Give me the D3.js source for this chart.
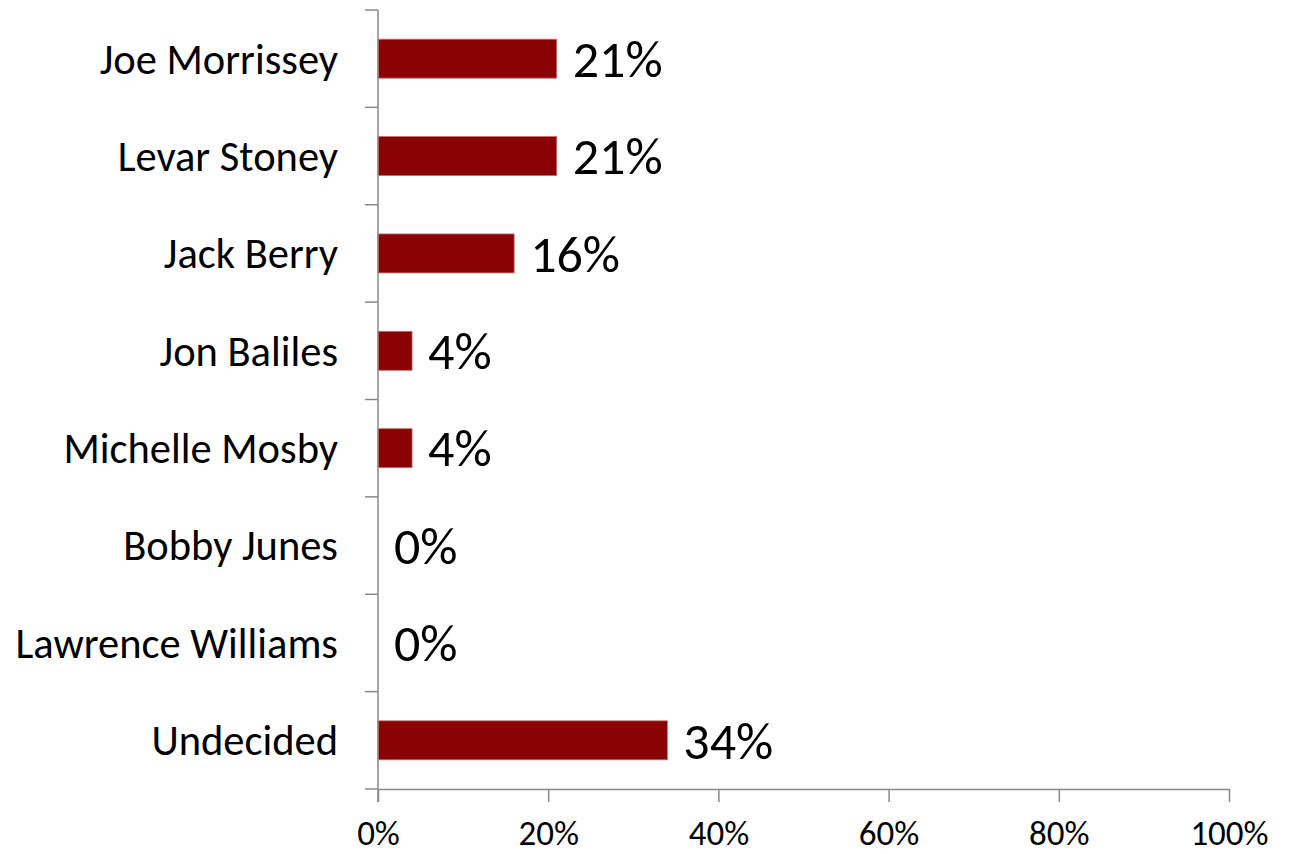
<!DOCTYPE html>
<html>
<head>
<meta charset="utf-8">
<script src="https://cdn.jsdelivr.net/npm/d3@7"></script>
<style>
  html, body { margin: 0; padding: 0; background: #fff; }
  svg { display: block; font-family: Calibri, Carlito, 'Open Sans', sans-serif; }
</style>
</head>
<body>
<svg id="chart" width="1290" height="854"></svg>
<script>
const candidates = ['Joe Morrissey', 'Levar Stoney', 'Jack Berry', 'Jon Baliles',
  'Michelle Mosby', 'Bobby Junes', 'Lawrence Williams', 'Undecided'];
const shares = [21, 21, 16, 4, 4, 0, 0, 34];
const xTicks = [0, 20, 40, 60, 80, 100];

const margin = { top: 10, right: 61, bottom: 65, left: 378 };
const width = 1290, height = 854;
const axisColor = '#888888';
const barColor = '#8a0304';

const svg = d3.select('#chart');

const x = d3.scaleLinear()
  .domain([0, 100])
  .range([margin.left, width - margin.right]);

const y = d3.scaleBand()
  .domain(candidates)
  .range([margin.top, height - margin.bottom])
  .paddingInner(0.6)
  .paddingOuter(0.3);

const data = candidates.map((name, i) => ({ name, value: shares[i] }));
const bottom = height - margin.bottom;

// bars
svg.append('g')
  .selectAll('rect')
  .data(data.filter(d => d.value > 0))
  .enter().append('rect')
  .attr('x', x(0))
  .attr('y', d => y(d.name))
  .attr('width', d => x(d.value) - x(0))
  .attr('height', y.bandwidth())
  .attr('fill', barColor)
  .attr('stroke', '#c56a6a')
  .attr('stroke-width', 0.8);

// y axis: line + ticks at band boundaries
const yAxis = svg.append('g').attr('stroke', axisColor).attr('stroke-width', 1.5);
yAxis.append('line')
  .attr('x1', x(0)).attr('x2', x(0))
  .attr('y1', margin.top).attr('y2', bottom + 13);
const boundaries = d3.range(candidates.length + 1).map(i => margin.top + i * y.step());
yAxis.selectAll('.ytick')
  .data(boundaries)
  .enter().append('line')
  .attr('class', 'ytick')
  .attr('x1', x(0) - 13).attr('x2', x(0))
  .attr('y1', d => d).attr('y2', d => d);

// x axis
const xAxis = d3.axisBottom(x)
  .tickValues(xTicks)
  .tickSize(13)
  .tickSizeOuter(0)
  .tickPadding(18)
  .tickFormat(d => d + '%');

const xg = svg.append('g')
  .attr('transform', `translate(0,${bottom})`)
  .call(xAxis);
xg.select('.domain').attr('stroke', axisColor).attr('stroke-width', 1.5);
xg.selectAll('.tick line').attr('stroke', axisColor).attr('stroke-width', 1.5);
xg.selectAll('.tick text')
  .attr('fill', '#000')
  .attr('font-size', 35)
  .attr('font-family', "Calibri, Carlito, 'Open Sans', sans-serif");

// category labels
svg.append('g')
  .selectAll('text')
  .data(candidates)
  .enter().append('text')
  .attr('x', x(0) - 40)
  .attr('y', d => y(d) + y.bandwidth() / 2)
  .attr('dy', '0.35em')
  .attr('text-anchor', 'end')
  .attr('font-size', 42.5)
  .attr('fill', '#000')
  .text(d => d);

// value labels
svg.append('g')
  .selectAll('text')
  .data(data)
  .enter().append('text')
  .attr('x', d => x(d.value) + 16)
  .attr('y', d => y(d.name) + y.bandwidth() / 2)
  .attr('dy', '0.35em')
  .attr('font-size', 52)
  .attr('fill', '#000')
  .text(d => d.value + '%');
</script>
</body>
</html>
